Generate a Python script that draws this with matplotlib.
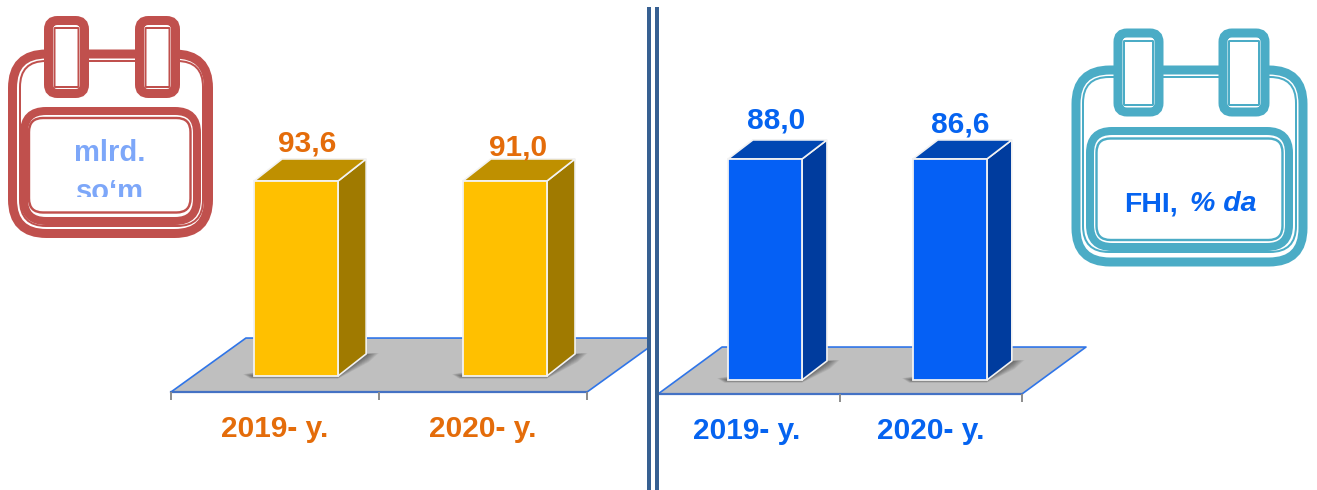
# coding=utf-8
# ikkita 3D ustunli diagramma: mlrd. so'm va FHI ga nisbatan % da

from matplotlib import pyplot as plt
from matplotlib.patches import FancyBboxPatch, Rectangle

plt.rcParams['font.family'] = ['Liberation Sans', 'DejaVu Sans']
plt.rcParams['font.weight'] = 'bold'

years = ['2019- y.', '2020- y.']

# values printed above the bars
left_values = [93.6, 91.0]
right_values = [88.0, 86.6]

# the picture draws both bars of a chart at the same height, whatever the label says
left_levels = [93.6, 93.6]
right_levels = [88.0, 88.0]

W, H = 1317, 490
RED = '#C0504D'
TEAL = '#4BACC6'
ORANGE_TXT = '#E46C0A'
BLUE_TXT = '#0563F0'


def px_axes(fig, x0, x1, y_top, y_bottom):
    return fig.add_axes([x0 / W, 1 - y_bottom / H, (x1 - x0) / W, (y_bottom - y_top) / H])


def box(ax, x0, y0, x1, y1, color, lw_px, r, fc='none', z=2):
    p = FancyBboxPatch((x0, y0), x1 - x0, y1 - y0, boxstyle='round,pad=0,rounding_size=%g' % r,
                       fc=fc, ec=color, lw=lw_px * 0.72, zorder=z)
    ax.add_patch(p)


def draw_chart(ax, levels, values, colors, txt_color, bw, shifts, dx, dy, floor_dx, floor_dy, low,
               label_nudge, ux, uy, year_pos):
    face, side, top = colors
    for s in ax.spines.values():
        s.set_visible(False)
    ax.patch.set_alpha(0)

    # floor
    ax.fill([-0.5, 1.5, 1.5 + floor_dx, -0.5 + floor_dx], [low, low, low + floor_dy, low + floor_dy],
            color='#BFBFBF', lw=0, zorder=1)
    ax.plot([-0.5, -0.5 + floor_dx, 1.5 + floor_dx, 1.5], [low, low + floor_dy, low + floor_dy, low],
            color='#2F75E8', lw=1.2, zorder=1.5)
    ax.plot([-0.5, 1.5], [low, low], color='#4472C4', lw=1.6, zorder=1.5, clip_on=False)

    for i, level in enumerate(levels):
        xl = i + shifts[i] - bw / 2
        xr = i + shifts[i] + bw / 2
        # soft shadow at the foot of the bar, built up from thin layers
        for k in range(1, 10):
            ax.fill([xl - k * 1.2 * ux, xl - k * 0.4 * ux, xr, xr + dx + k * 0.3 * ux,
                     xr + dx + k * 1.4 * ux, xr + dx],
                    [k * 0.2 * uy, -k * 0.3 * uy, -k * 0.3 * uy, dy - k * 0.9 * uy,
                     dy + k * 0.1 * uy, dy],
                    color='#202020', alpha=0.08, lw=0, zorder=2)
        ax.bar(i + shifts[i], level, width=bw, color=face, edgecolor='#F2F2F2', linewidth=1.3, zorder=4)
        ax.fill([xr, xr + dx, xr + dx, xr], [0, dy, level + dy, level],
                color=side, ec='#F2F2F2', lw=1.2, zorder=3)
        ax.fill([xl, xl + dx, xr + dx, xr], [level, level + dy, level + dy, level],
                color=top, ec='#F2F2F2', lw=1.2, zorder=3)
        ax.text(i + shifts[i] + dx / 2 + label_nudge[i][0], level + dy + label_nudge[i][1],
                ('%.1f' % values[i]).replace('.', ','), color=txt_color, fontsize=21.5,
                ha='center', va='baseline', zorder=5)

    ax.set_xticks([-0.5, 0.5, 1.5], labels=['', '', ''])
    ax.set_xticks(year_pos, labels=years, minor=True, color=txt_color, fontsize=21.5, fontweight='bold')
    ax.tick_params(axis='x', which='major', length=5.8, width=1.4, color='#8C8C8C', direction='out')
    ax.tick_params(axis='x', which='minor', length=0, pad=16.5)
    ax.set_yticks([])


def draw_calendar(ax, color, outer, thin, panel, panel_in, clips, clip_y, clip_in_y, clip_w_in):
    box(ax, *outer, color, 9, 34)
    box(ax, *thin, color, 2, 26)
    box(ax, *panel, color, 8, 22, fc='white', z=3)
    box(ax, *panel_in, color, 2.4, 14, fc='white', z=3)
    for cx in clips:
        box(ax, cx[0], clip_y[0], cx[1], clip_y[1], color, 9, 9, fc='white', z=4)
        box(ax, cx[0] + clip_w_in, clip_in_y[0], cx[1] - clip_w_in, clip_in_y[1], color, 2, 0.5, fc='white', z=4)


def main():
    fig = plt.figure(figsize=(W / 100, H / 100), dpi=100)

    # left chart: 208 px per category, 2.083 px per unit, foot of the bars 16 px above the front edge
    ax1 = px_axes(fig, 171, 647, 100, 392)
    ax1.set_xlim(-0.5, 1.788)
    ax1.set_ylim(-7.68, 132.5)
    draw_chart(ax1, left_levels, left_values, ('#FFC000', '#A07A00', '#BF9000'), ORANGE_TXT,
               0.404, [0.101, 0.105], 0.135, 10.6, 0.36, 25.9, -7.68, [(-0.012, 3.4), (-0.004, 1.6)],
               1 / 208, 1 / 2.083, [0, 1])

    # right chart: 182 px per category, 2.511 px per unit
    ax2 = px_axes(fig, 658, 1090, 100, 394)
    ax2.set_xlim(-0.5, 1.874)
    ax2.set_ylim(-5.57, 111.5)
    draw_chart(ax2, right_levels, right_values, ('#0560F5', '#003C9E', '#0047B3'), BLUE_TXT,
               0.407, [0.088, 0.104], 0.137, 7.6, 0.352, 18.7, -5.57, [(-0.01, 4.6), (-0.01, 2.8)],
               1 / 182, 1 / 2.511, [-0.015, 1])

    # calendars and the divider live on a pixel overlay
    ov = fig.add_axes([0, 0, 1, 1], zorder=10)
    ov.set_xlim(0, W)
    ov.set_ylim(H, 0)
    ov.axis('off')
    ov.patch.set_alpha(0)

    draw_calendar(ov, RED, (12.5, 54, 208.5, 233.5), (20, 61, 203, 226), (24, 111, 197, 221),
                  (29, 118, 190.5, 212.5), [(48.5, 84.5), (139.5, 175.5)], (20.5, 93.5), (28, 87), 6)
    draw_calendar(ov, TEAL, (1076, 70, 1303, 262), (1083, 77, 1296, 252), (1090, 131, 1289, 247),
                  (1096.5, 138.5, 1282.5, 240), [(1118, 1159), (1223, 1265)], (33, 112), (41, 105), 6)

    ov.text(110, 161, 'mlrd.', color='#7DA7F9', fontsize=21, ha='center', va='baseline', zorder=6)
    t = ov.text(110, 200, 'so\u2018m', color='#7DA7F9', fontsize=21, ha='center', va='baseline', zorder=6)
    t.set_clip_path(Rectangle((30, 120), 160, 77, transform=ov.transData))
    t.set_clip_on(True)
    ov.text(1124, 211, 'FHI,', color=BLUE_TXT, fontsize=20.5, ha='left', va='baseline', zorder=6)
    ov.text(1190, 211, '% da', color=BLUE_TXT, fontsize=20.5, style='italic', ha='left', va='baseline', zorder=6)

    for xc in [649, 657]:
        ov.plot([xc, xc], [7, 490], color='#376092', lw=4 * 0.72, solid_capstyle='butt')

    plt.savefig('out.png', dpi=100)


if __name__ == '__main__':
    main()
